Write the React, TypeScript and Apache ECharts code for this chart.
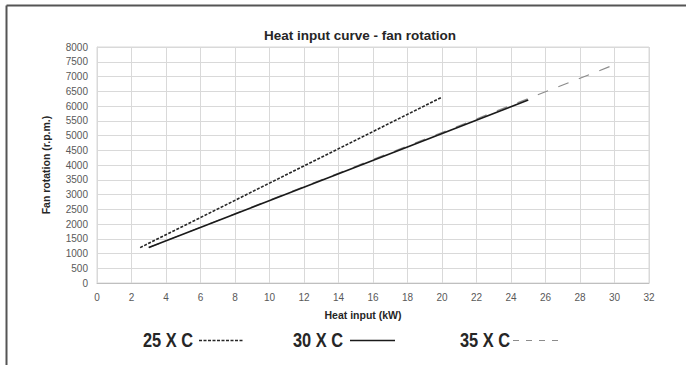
import React, { useEffect, useRef } from "react";
import * as echarts from "echarts";

const titleText = "Heat input curve - fan rotation";
const xAxisName = "Heat input (kW)";
const yAxisName = "Fan rotation (r.p.m.)";
const seriesNames = ["25 X C", "30 X C", "35 X C"];
const series25: [number, number][] = [[2.5, 1200], [20, 6300]];
const series30: [number, number][] = [[3, 1200], [25, 6200]];
const series35: [number, number][] = [[3, 1200], [30, 7400]];

const FONT = "'Liberation Sans', Arial, sans-serif";

const C25 = "#262626";
const C30 = "#1a1a1a";
const C35 = "#8c8c8c";

function legendItem(name: string, x: number, lineX1: number, lineX2: number, stroke: string, dash: number[] | null, width: number) {
  return {
    type: "group",
    children: [
      {
        type: "text",
        x,
        y: 340,
        scaleX: 0.82,
        style: {
          text: name,
          fontFamily: FONT,
          fontSize: 20,
          fontWeight: "bold",
          fill: "#262626",
          textVerticalAlign: "middle",
          verticalAlign: "middle",
        },
      },
      {
        type: "line",
        shape: { x1: lineX1, y1: 340.5, x2: lineX2, y2: 340.5 },
        style: { stroke, lineWidth: width, lineDash: dash || undefined },
      },
    ],
  };
}

export default function App() {
  const ref = useRef<HTMLDivElement>(null);
  useEffect(() => {
    if (!ref.current) return;
    const chart = echarts.init(ref.current, undefined, { renderer: "svg" });
    chart.setOption({
      animation: false,
      backgroundColor: "#ffffff",
      title: {
        text: titleText,
        left: 355,
        top: 23,
        textAlign: "center",
        textStyle: { fontFamily: FONT, fontSize: 13.5, fontWeight: "bold", color: "#262626" },
      },
      grid: { left: 97, right: 37, top: 47, bottom: 82, show: true, borderColor: "#d9d9d9", borderWidth: 1 },
      xAxis: {
        type: "value",
        min: 0,
        max: 32,
        interval: 2,
        name: xAxisName,
        nameLocation: "middle",
        nameGap: 26,
        nameTextStyle: { fontFamily: FONT, fontSize: 10.5, fontWeight: "bold", color: "#262626", padding: [0, 20, 0, 0] },
        axisLine: { show: true, lineStyle: { color: "#bfbfbf" } },
        axisTick: { show: false },
        axisLabel: { fontFamily: FONT, fontSize: 10, color: "#595959", margin: 9 },
        splitLine: { show: true, lineStyle: { color: "#d9d9d9" } },
      },
      yAxis: {
        type: "value",
        min: 0,
        max: 8000,
        interval: 500,
        name: yAxisName,
        nameLocation: "middle",
        nameGap: 46,
        nameTextStyle: { fontFamily: FONT, fontSize: 10.5, fontWeight: "bold", color: "#262626" },
        axisLine: { show: true, lineStyle: { color: "#d9d9d9" } },
        axisTick: { show: false },
        axisLabel: { fontFamily: FONT, fontSize: 10, color: "#595959", margin: 9, formatter: (v: number) => String(v) },
        splitLine: { show: true, lineStyle: { color: "#d9d9d9" } },
      },
      graphic: [
        { type: "line", shape: { x1: 6.5, y1: 5.5, x2: 686, y2: 5.5 }, style: { stroke: "#555555", lineWidth: 2 } },
        { type: "line", shape: { x1: 6.5, y1: 5.5, x2: 6.5, y2: 365 }, style: { stroke: "#555555", lineWidth: 2 } },
        legendItem(seriesNames[0], 143, 199, 243, C25, [3, 1.5], 1.5),
        legendItem(seriesNames[1], 293, 350, 395, C30, null, 1.6),
        legendItem(seriesNames[2], 460, 513, 562, C35, [6, 7], 1.2),
      ],
      series: [
        {
          name: seriesNames[2],
          type: "line",
          data: series35,
          symbol: "none",
          z: 1,
          lineStyle: { color: C35, width: 1.2, type: [11, 11] },
        },
        {
          name: seriesNames[0],
          type: "line",
          data: series25,
          symbol: "none",
          z: 2,
          lineStyle: { color: C25, width: 1.6, type: [3, 1.5] },
        },
        {
          name: seriesNames[1],
          type: "line",
          data: series30,
          symbol: "none",
          z: 3,
          lineStyle: { color: C30, width: 1.6 },
        },
      ],
    });
    return () => chart.dispose();
  }, []);
  return <div ref={ref} style={{ width: 686, height: 365, position: "absolute", left: 0, top: 0 }} />;
}
